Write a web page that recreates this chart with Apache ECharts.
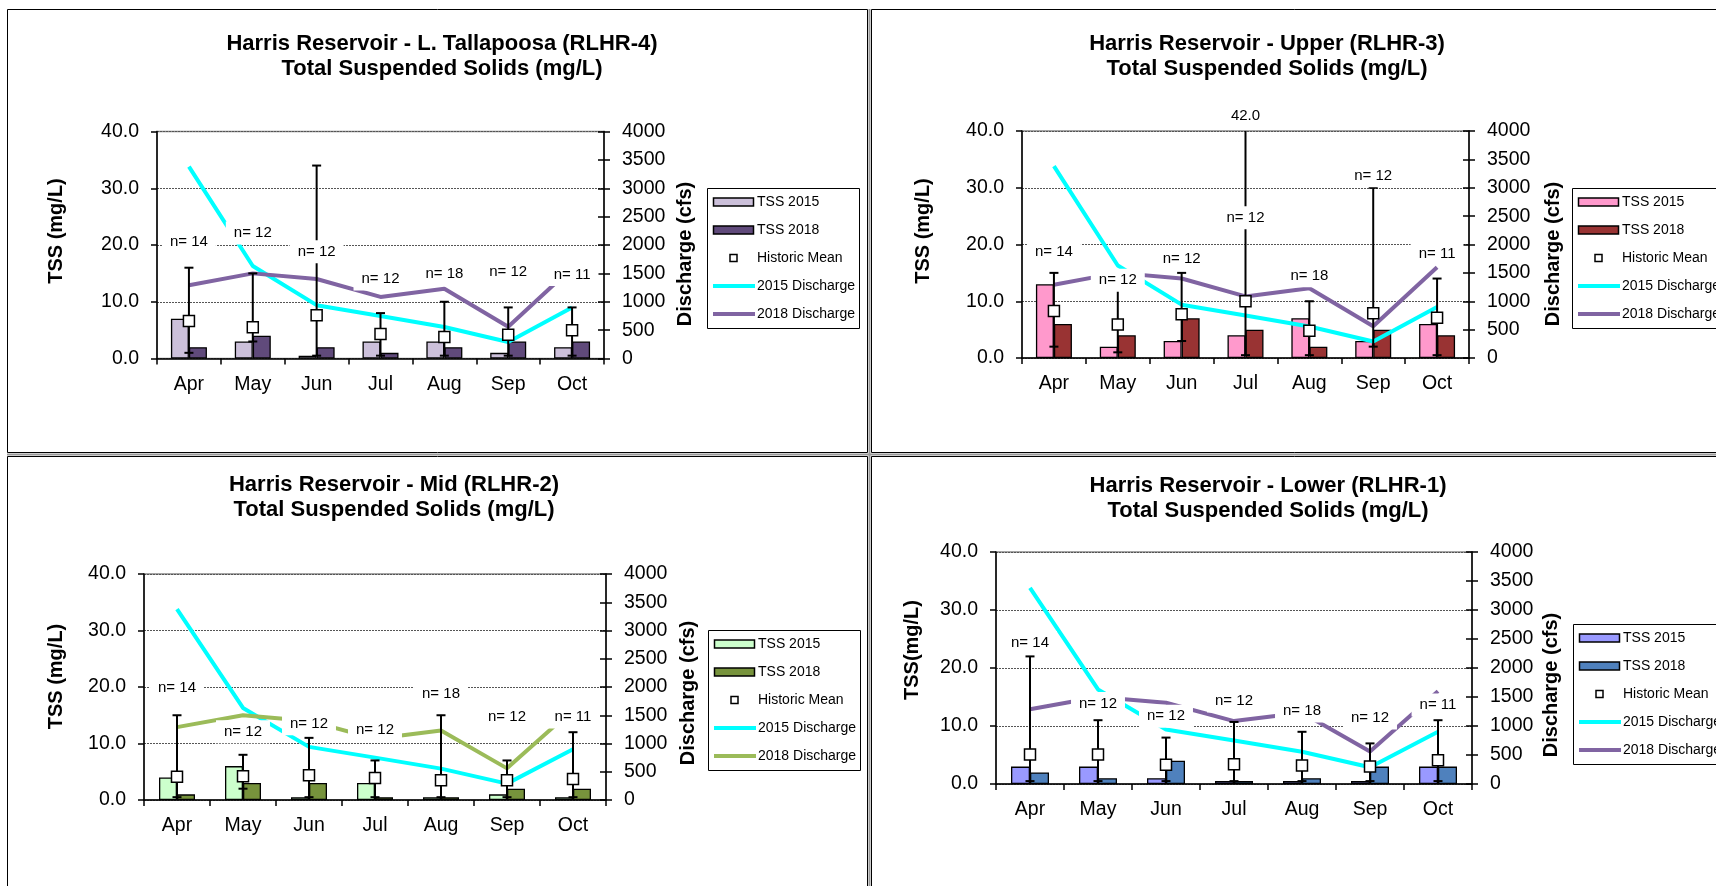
<!DOCTYPE html>
<html><head><meta charset="utf-8">
<script src="https://cdn.jsdelivr.net/npm/echarts@6/dist/echarts.min.js"></script>
<style>html,body{margin:0;padding:0;background:#fff;overflow:hidden}#c{width:1716px;height:886px}</style>
</head><body><div id="c"></div>
<script>
const months = ['Apr', 'May', 'Jun', 'Jul', 'Aug', 'Sep', 'Oct'];
const discharge2015 = [3380, 1630, 940, 750, 555, 290, 900];
const discharge2018 = [1290, 1500, 1400, 1085, 1230, 560, 1600];

// RLHR-4  L. Tallapoosa
const rlhr4Tss2015 = [7.0, 3.0, 0.5, 3.0, 3.0, 1.0, 2.0];
const rlhr4Tss2018 = [2.0, 4.0, 2.0, 1.0, 2.0, 3.0, 3.0];
const rlhr4Mean = [6.6, 5.5, 7.6, 4.3, 3.8, 4.2, 5.0];
const rlhr4Min = [1.0, 3.0, 0.5, 0.5, 0.5, 0.5, 0.5];
const rlhr4Max = [16.0, 15.0, 34.0, 8.0, 10.0, 9.0, 9.0];
const rlhr4N = [14, 12, 12, 12, 18, 12, 11];
const rlhr4NLevel = [20.6, 22.1, 18.8, 14.0, 15.0, 15.3, 14.8];

// RLHR-3  Upper
const rlhr3Tss2015 = [13.0, 2.0, 3.0, 4.0, 7.0, 3.0, 6.0];
const rlhr3Tss2018 = [6.0, 4.0, 7.0, 5.0, 2.0, 5.0, 4.0];
const rlhr3Mean = [8.3, 5.9, 7.7, 10.0, 4.8, 7.9, 7.1];
const rlhr3Min = [2.0, 1.0, 3.0, 0.5, 0.5, 2.0, 0.5];
const rlhr3Max = [15.0, 12.0, 15.0, 42.0, 10.0, 30.0, 14.0];
const rlhr3N = [14, 12, 12, 12, 18, 12, 11];
const rlhr3NLevel = [18.7, 13.7, 17.4, 24.7, 14.5, 32.1, 18.4];

// RLHR-2  Mid
const rlhr2Tss2015 = [4.0, 6.0, 0.5, 3.0, 0.5, 1.0, 0.5];
const rlhr2Tss2018 = [1.0, 3.0, 3.0, 0.5, 0.5, 2.0, 2.0];
const rlhr2Mean = [4.1, 4.2, 4.4, 3.9, 3.5, 3.5, 3.7];
const rlhr2Min = [0.5, 2.0, 0.5, 0.5, 0.5, 0.5, 0.5];
const rlhr2Max = [15.0, 8.0, 11.0, 7.0, 15.0, 7.0, 12.0];
const rlhr2N = [14, 12, 12, 12, 18, 12, 11];
const rlhr2NLevel = [19.9, 12.1, 13.5, 12.4, 18.7, 14.7, 14.7];

// RLHR-1  Lower
const rlhr1Tss2015 = [3.0, 3.0, 1.0, 0.5, 0.5, 0.5, 3.0];
const rlhr1Tss2018 = [2.0, 1.0, 4.0, 0.5, 1.0, 3.0, 3.0];
const rlhr1Mean = [5.1, 5.1, 3.3, 3.4, 3.2, 3.0, 4.1];
const rlhr1Min = [0.5, 0.5, 0.5, 0.5, 0.5, 0.5, 0.5];
const rlhr1Max = [22.0, 11.0, 8.0, 10.7, 9.0, 7.0, 11.0];
const rlhr1N = [14, 12, 12, 12, 18, 12, 11];
const rlhr1NLevel = [24.4, 13.9, 11.7, 14.3, 12.6, 11.4, 13.6];

const legendNames = ['TSS 2015', 'TSS 2018', 'Historic Mean', '2015 Discharge', '2018 Discharge'];
const TSS_MAX = 40;

const panels = [
  { grid: {left: 157, top: 131.5, width: 447, height: 227},
    title: ['Harris Reservoir - L. Tallapoosa (RLHR-4)', 'Total Suspended Solids (mg/L)'], titleX: 442, titleY: [43.5, 68.5],
    yName: 'TSS (mg/L)', yNamePos: [56.7, 231], dNamePos: [685, 254], legendPos: [707, 188],
    c15: '#CCC0DA', c18: '#604A7B', l18: '#8064A2', barW: 18,
    tss15: rlhr4Tss2015, tss18: rlhr4Tss2018, mean: rlhr4Mean, min: rlhr4Min, max: rlhr4Max, n: rlhr4N, nLevel: rlhr4NLevel },
  { grid: {left: 1022, top: 131, width: 447, height: 227},
    title: ['Harris Reservoir - Upper (RLHR-3)', 'Total Suspended Solids (mg/L)'], titleX: 1267, titleY: [43.5, 68.5],
    yName: 'TSS (mg/L)', yNamePos: [923.3, 231], dNamePos: [1553, 254], legendPos: [1572, 188],
    c15: '#FF99CC', c18: '#993333', l18: '#8064A2', barW: 18,
    tss15: rlhr3Tss2015, tss18: rlhr3Tss2018, mean: rlhr3Mean, min: rlhr3Min, max: rlhr3Max, n: rlhr3N, nLevel: rlhr3NLevel },
  { grid: {left: 144, top: 574, width: 462, height: 226},
    title: ['Harris Reservoir - Mid (RLHR-2)', 'Total Suspended Solids (mg/L)'], titleX: 394, titleY: [485, 510],
    yName: 'TSS (mg/L)', yNamePos: [56.7, 676.5], dNamePos: [688, 693], legendPos: [708, 630],
    c15: '#CCFFCC', c18: '#77933C', l18: '#9BBB59', barW: 18,
    tss15: rlhr2Tss2015, tss18: rlhr2Tss2018, mean: rlhr2Mean, min: rlhr2Min, max: rlhr2Max, n: rlhr2N, nLevel: rlhr2NLevel },
  { grid: {left: 996, top: 552, width: 476, height: 232},
    title: ['Harris Reservoir - Lower (RLHR-1)', 'Total Suspended Solids (mg/L)'], titleX: 1268, titleY: [485.5, 510.5],
    yName: 'TSS(mg/L)', yNamePos: [912.7, 650], dNamePos: [1551.7, 685], legendPos: [1573, 624],
    c15: '#9999FF', c18: '#4F81BD', l18: '#8064A2', barW: 19,
    tss15: rlhr1Tss2015, tss18: rlhr1Tss2018, mean: rlhr1Mean, min: rlhr1Min, max: rlhr1Max, n: rlhr1N, nLevel: rlhr1NLevel }
];

const FONT = 'Liberation Sans, Arial, sans-serif';
const grids = [], xAxes = [], yAxes = [], series = [], graphics = [];

// panel frames
graphics.push({type: 'rect', shape: {x: 7.5, y: 9.5, width: 860, height: 443}, style: {fill: 'none', stroke: '#000', lineWidth: 1}, z: 0});
graphics.push({type: 'rect', shape: {x: 871.5, y: 9.5, width: 900, height: 443}, style: {fill: 'none', stroke: '#000', lineWidth: 1}, z: 0});
graphics.push({type: 'rect', shape: {x: 7.5, y: 456.5, width: 860, height: 500}, style: {fill: 'none', stroke: '#000', lineWidth: 1}, z: 0});
graphics.push({type: 'rect', shape: {x: 871.5, y: 456.5, width: 900, height: 500}, style: {fill: 'none', stroke: '#000', lineWidth: 1}, z: 0});
graphics.push({type: 'line', shape: {x1: 869.5, y1: 9, x2: 869.5, y2: 886}, style: {stroke: '#999', lineWidth: 2}, z: 0});
graphics.push({type: 'line', shape: {x1: 7, y1: 454.5, x2: 1716, y2: 454.5}, style: {stroke: '#999', lineWidth: 2}, z: 0});

function errorBarRender(params, api) {
  const i = api.value(0);
  const lo = api.value(1), hi = api.value(2);
  const x = api.coord([i, 0])[0];
  const yLo = api.coord([i, lo])[1];
  const yHi = api.coord([i, Math.min(hi, TSS_MAX)])[1];
  const cap = 4.5;
  const st = {stroke: '#000', lineWidth: 2};
  const children = [
    {type: 'line', shape: {x1: x, y1: yLo, x2: x, y2: yHi}, style: st},
    {type: 'line', shape: {x1: x - cap, y1: yLo, x2: x + cap, y2: yLo}, style: st}
  ];
  if (hi <= TSS_MAX) {
    children.push({type: 'line', shape: {x1: x - cap, y1: yHi, x2: x + cap, y2: yHi}, style: st});
  } else {
    children.push({type: 'text', x: x, y: yHi - 15, style: {text: hi.toFixed(1), align: 'center', verticalAlign: 'middle', fill: '#000', fontSize: 15, fontFamily: FONT}});
  }
  return {type: 'group', children: children};
}

function nLabelRender(params, api) {
  const i = api.value(0);
  const p = api.coord([i, api.value(1)]);
  return {type: 'text', x: p[0], y: p[1], z2: 10,
    style: {text: 'n= ' + api.value(2), align: 'center', verticalAlign: 'middle', fill: '#000',
      fontSize: 15, fontFamily: FONT, backgroundColor: '#fff', padding: [4, 8]}};
}

panels.forEach((p, gi) => {
  grids.push(Object.assign({show: true, borderColor: '#888', borderWidth: 1.5, backgroundColor: 'transparent', containLabel: false, outerBoundsMode: 'none'}, p.grid));
  xAxes.push({type: 'category', gridIndex: gi, data: months, boundaryGap: true,
    axisLine: {show: true, onZero: false, lineStyle: {color: '#000', width: 1.5}},
    axisTick: {show: true, length: 6, alignWithLabel: false, lineStyle: {color: '#000', width: 1.5}},
    axisLabel: {fontSize: 19.5, color: '#000', fontFamily: FONT, margin: 16},
    splitLine: {show: false}});
  yAxes.push({type: 'value', gridIndex: gi, min: 0, max: 40, interval: 10, position: 'left',
    axisLine: {show: true, lineStyle: {color: '#000', width: 1.5}},
    axisTick: {show: true, length: 6, lineStyle: {color: '#000', width: 1.5}},
    axisLabel: {formatter: v => v.toFixed(1), fontSize: 19.5, color: '#000', fontFamily: FONT, margin: 18},
    splitLine: {show: true, lineStyle: {color: '#555', type: [2, 1], width: 1}}});
  yAxes.push({type: 'value', gridIndex: gi, min: 0, max: 4000, interval: 500, position: 'right',
    axisLine: {show: true, lineStyle: {color: '#000', width: 1.5}},
    axisTick: {show: true, length: 6, lineStyle: {color: '#000', width: 1.5}},
    axisLabel: {formatter: v => String(v), fontSize: 19.5, color: '#000', fontFamily: FONT, margin: 18},
    splitLine: {show: false}});
  yAxes.push({type: 'value', gridIndex: gi, min: 0, max: 4000, interval: 500, position: 'right',
    axisLine: {show: false}, axisTick: {show: true, inside: true, length: 6, lineStyle: {color: '#000', width: 1.5}},
    axisLabel: {show: false}, splitLine: {show: false}});

  const yl = gi * 3, yr = gi * 3 + 1;
  series.push({type: 'bar', name: legendNames[0], xAxisIndex: gi, yAxisIndex: yl, data: p.tss15, barWidth: p.barW, barGap: '0%', z: 2,
    itemStyle: {color: p.c15, borderColor: '#000', borderWidth: 1.3}});
  series.push({type: 'bar', name: legendNames[1], xAxisIndex: gi, yAxisIndex: yl, data: p.tss18, barWidth: p.barW, barGap: '0%', z: 2,
    itemStyle: {color: p.c18, borderColor: '#000', borderWidth: 1.3}});
  series.push({type: 'line', name: legendNames[3], xAxisIndex: gi, yAxisIndex: yr, data: discharge2015, symbol: 'none', z: 3,
    lineStyle: {color: '#00FFFF', width: 4}, itemStyle: {color: '#00FFFF'}});
  series.push({type: 'line', name: legendNames[4], xAxisIndex: gi, yAxisIndex: yr, data: discharge2018, symbol: 'none', z: 3,
    lineStyle: {color: p.l18, width: 4}, itemStyle: {color: p.l18}});
  series.push({type: 'custom', name: 'Range', xAxisIndex: gi, yAxisIndex: yl, z: 4, renderItem: errorBarRender,
    encode: {x: 0, y: [1, 2]}, data: months.map((m, i) => [i, p.min[i], p.max[i]])});
  series.push({type: 'scatter', name: legendNames[2], xAxisIndex: gi, yAxisIndex: yl, z: 5, symbol: 'rect', symbolSize: 11,
    itemStyle: {color: '#fff', borderColor: '#000', borderWidth: 1.5, opacity: 1}, data: p.mean});
  series.push({type: 'custom', name: 'n', xAxisIndex: gi, yAxisIndex: yl, z: 6, renderItem: nLabelRender,
    encode: {x: 0, y: 1}, data: months.map((m, i) => [i, p.nLevel[i], p.n[i]])});

  // titles
  p.title.forEach((t, k) => graphics.push({type: 'text', x: p.titleX, y: p.titleY[k], z: 10,
    style: {text: t, align: 'center', verticalAlign: 'middle', fill: '#000', fontSize: 22, fontWeight: 'bold', fontFamily: FONT}}));
  // axis names
  graphics.push({type: 'text', x: p.yNamePos[0], y: p.yNamePos[1], rotation: Math.PI / 2, z: 10,
    style: {text: p.yName, align: 'center', verticalAlign: 'middle', fill: '#000', fontSize: 20, fontWeight: 'bold', fontFamily: FONT}});
  graphics.push({type: 'text', x: p.dNamePos[0], y: p.dNamePos[1], rotation: Math.PI / 2, z: 10,
    style: {text: 'Discharge (cfs)', align: 'center', verticalAlign: 'middle', fill: '#000', fontSize: 20, fontWeight: 'bold', fontFamily: FONT}});
  // legend
  const lx = p.legendPos[0], ly = p.legendPos[1];
  graphics.push({type: 'rect', shape: {x: lx + 0.5, y: ly + 0.5, width: 152, height: 140}, style: {fill: '#fff', stroke: '#000', lineWidth: 1}, z: 10});
  legendNames.forEach((nm, k) => {
    const cy = ly + 14 + 28 * k;
    let icon;
    if (k === 0 || k === 1) {
      icon = {type: 'rect', shape: {x: lx + 6.5, y: cy - 4, width: 40, height: 8}, style: {fill: k === 0 ? p.c15 : p.c18, stroke: '#000', lineWidth: 1.5}, z: 11};
    } else if (k === 2) {
      icon = {type: 'rect', shape: {x: lx + 23, y: cy - 3.5, width: 7, height: 7}, style: {fill: '#fff', stroke: '#000', lineWidth: 1.5}, z: 11};
    } else {
      icon = {type: 'line', shape: {x1: lx + 6, y1: cy, x2: lx + 48, y2: cy}, style: {stroke: k === 3 ? '#00FFFF' : p.l18, lineWidth: 4}, z: 11};
    }
    graphics.push(icon);
    graphics.push({type: 'text', x: lx + 50, y: cy, z: 11,
      style: {text: nm, align: 'left', verticalAlign: 'middle', fill: '#000', fontSize: 14, fontFamily: FONT}});
  });
});

const chart = echarts.init(document.getElementById('c'), null, {renderer: 'canvas'});
chart.setOption({
  animation: false,
  backgroundColor: '#fff',
  grid: grids, xAxis: xAxes, yAxis: yAxes, series: series,
  graphic: {elements: graphics},
  tooltip: {show: false}
});
</script>
</body></html>
